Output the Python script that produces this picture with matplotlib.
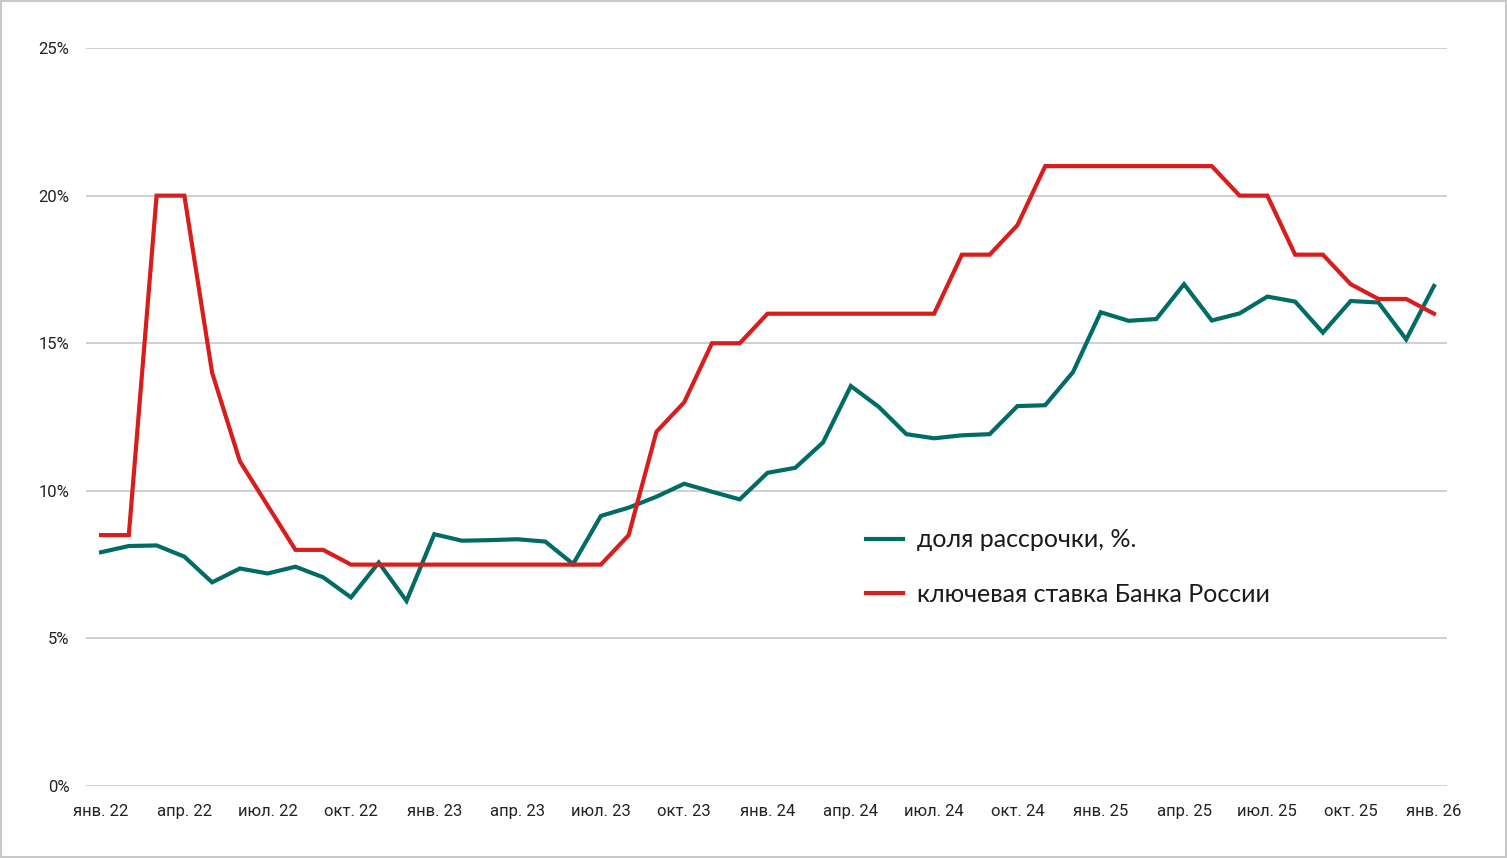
import matplotlib.pyplot as plt
from matplotlib.patches import Rectangle
import numpy as np

# monthly data, jan 2022 .. jan 2026
months = ["янв.", "фев.", "мар.", "апр.", "май", "июн.", "июл.", "авг.", "сен.", "окт.", "ноя.", "дек."]
years = [22, 23, 24, 25, 26]

installment_share = [7.92, 8.13, 8.15, 7.77, 6.90, 7.37, 7.20, 7.43, 7.07, 6.39, 7.57, 6.27,
                     8.53, 8.31, 8.33, 8.36, 8.28, 7.52, 9.15, 9.43, 9.80, 10.24, 9.97, 9.71,
                     10.61, 10.78, 11.64, 13.55, 12.85, 11.92, 11.78, 11.88, 11.92, 12.87, 12.90, 14.02,
                     16.05, 15.76, 15.82, 17.00, 15.77, 16.01, 16.58, 16.41, 15.36, 16.43, 16.38, 15.13,
                     16.94]
key_rate = [8.5, 8.5, 20, 20, 14, 11, 9.5, 8, 8, 7.5, 7.5, 7.5,
            7.5, 7.5, 7.5, 7.5, 7.5, 7.5, 7.5, 8.5, 12, 13, 15, 15,
            16, 16, 16, 16, 16, 16, 16, 18, 18, 19, 21, 21,
            21, 21, 21, 21, 21, 20, 20, 18, 18, 17, 16.5, 16.5,
            16]

labels = [f"{months[i % 12]} {years[i // 12]}" for i in range(len(key_rate))]
x = np.arange(len(key_rate))

teal = "#016b66"
red = "#d91c1c"
tick_font = ["Liberation Sans Narrow", "Roboto", "DejaVu Sans"]

fig = plt.figure(figsize=(15.07, 8.58), dpi=100)
ax = fig.add_axes([0.0571, 0.0839, 0.9031, 0.8601])

ax.plot(x, installment_share, color=teal, lw=3.0, label="доля рассрочки, %.", solid_joinstyle="miter")
ax.plot(x, key_rate, color=red, lw=3.0, label="ключевая ставка Банка России", solid_joinstyle="miter")

ax.set_xlim(-0.54, 48.47)
ax.set_ylim(0, 25)
ax.set_yticks(np.arange(0, 26, 5))
ax.set_yticklabels([f"{v}%" for v in range(0, 26, 5)], family=tick_font, fontsize=12)
ax.set_xticks(x[::3])
ax.set_xticklabels(labels[::3], family=tick_font, fontsize=12)
ax.tick_params(axis="y", length=0, pad=12, colors="#222222")
ax.tick_params(axis="x", length=0, pad=13, colors="#222222")

ax.grid(axis="y", color="#cccccc", lw=1.3)
ax.set_axisbelow(True)
for s in ax.spines.values():
    s.set_visible(False)

leg = ax.legend(loc="upper left", bbox_to_anchor=(0.5598, 0.4105), bbox_transform=fig.transFigure,
                frameon=False, prop={"family": ["Lato", "Noto Sans"], "size": 18},
                handlelength=1.48, handletextpad=0.55, labelspacing=1.27)
for t in leg.get_texts():
    t.set_color("#1a1a1a")

# light frame round the picture
fig.patches.append(Rectangle((0.0005, 0.001), 0.999, 0.998, transform=fig.transFigure,
                             fill=False, ec="#c8c8c8", lw=1.5))

fig.savefig("out.png", dpi=100)
